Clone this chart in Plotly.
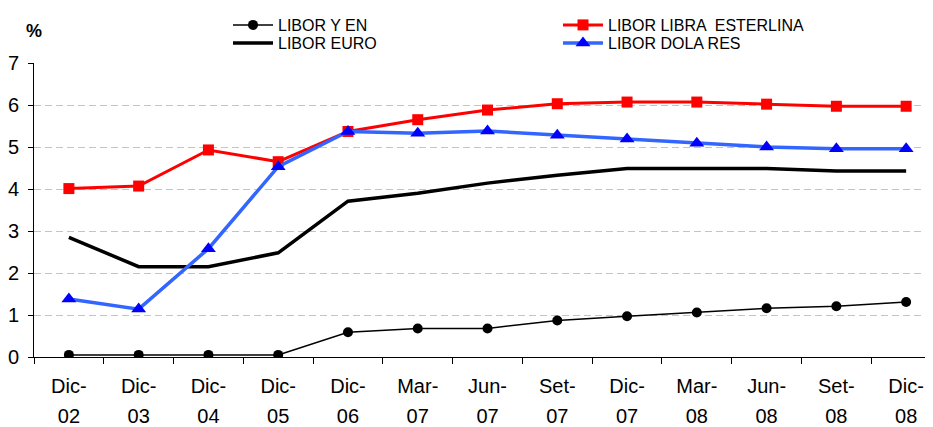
import plotly.graph_objects as go

month_labels = ["Dic-", "Dic-", "Dic-", "Dic-", "Dic-", "Mar-", "Jun-", "Set-", "Dic-", "Mar-", "Jun-", "Set-", "Dic-"]
year_labels = ["02", "03", "04", "05", "06", "07", "07", "07", "07", "08", "08", "08", "08"]
libor_yen = [0.05, 0.05, 0.05, 0.05, 0.59, 0.68, 0.68, 0.87, 0.97, 1.06, 1.16, 1.21, 1.31]
libor_euro = [2.85, 2.15, 2.15, 2.48, 3.71, 3.90, 4.14, 4.33, 4.49, 4.49, 4.49, 4.43, 4.43]
libor_libra = [4.01, 4.07, 4.93, 4.65, 5.37, 5.65, 5.88, 6.03, 6.07, 6.07, 6.02, 5.97, 5.97]
libor_dolares = [1.38, 1.14, 2.58, 4.53, 5.37, 5.33, 5.38, 5.28, 5.19, 5.09, 5.00, 4.96, 4.96]

FONT = "Liberation Sans, Arial, sans-serif"
# the page body has an 8px default margin, so the figure is sized/offset to compensate
W, H = 925, 419
L, R, T, B = 26, 0, 55, 70
PW = W - L - R
PH = H - T - B

fig = go.Figure()
xs = list(range(len(month_labels)))

fig.add_trace(go.Scatter(x=xs, y=libor_yen, name="LIBOR Y EN", mode="lines+markers",
                         line=dict(color="black", width=1.5),
                         marker=dict(symbol="circle", size=10, color="black"), legend="legend"))
fig.add_trace(go.Scatter(x=xs, y=libor_euro, name="LIBOR EURO", mode="lines",
                         line=dict(color="black", width=3.5), legend="legend2"))
fig.add_trace(go.Scatter(x=xs, y=libor_libra, name="LIBOR LIBRA  ESTERLINA", mode="lines+markers",
                         line=dict(color="#ff0000", width=3),
                         marker=dict(symbol="square", size=11, color="#ff0000"), legend="legend3"))
fig.add_trace(go.Scatter(x=xs, y=libor_dolares, name="LIBOR DOLA RES", mode="lines+markers",
                         line=dict(color="#3366ff", width=3.5),
                         marker=dict(symbol="triangle-up", size=13, color="#0000ff"), legend="legend4"))
# invisible trace carrying the second (year) label row
fig.add_trace(go.Scatter(x=xs, y=libor_yen, xaxis="x2", mode="markers", opacity=0,
                         showlegend=False, hoverinfo="skip"))


def leg(xpx, ypx):
    return dict(orientation="v", font=dict(family=FONT, size=16, color="black"),
                bgcolor="rgba(0,0,0,0)", itemwidth=40,
                xref="paper", yref="container", xanchor="left", yanchor="top",
                x=(xpx - L) / PW, y=1 - ypx / H)


fig.update_layout(
    width=W, height=H,
    margin=dict(l=L, r=R, t=T, b=B, autoexpand=False),
    paper_bgcolor="white", plot_bgcolor="white",
    font=dict(family=FONT, size=20, color="black"),
    showlegend=True,
    legend=leg(220, -2),
    legend2=leg(220, 18),
    legend3=leg(550, -2),
    legend4=leg(550, 18),
    xaxis=dict(range=[-0.5, 12.385], tickmode="array", tickvals=xs, ticktext=month_labels,
               showline=True, linecolor="black", linewidth=1, showgrid=False, zeroline=False,
               ticks="", ticklabelstandoff=11, tickfont=dict(family=FONT, size=20),
               minor=dict(tickmode="array", tickvals=[i - 0.5 for i in range(14)],
                          ticks="outside", ticklen=6, tickcolor="black", showgrid=False)),
    xaxis2=dict(range=[-0.5, 12.385], overlaying="x", anchor="y", side="bottom",
                tickmode="array", tickvals=xs, ticktext=year_labels,
                showline=False, showgrid=False, zeroline=False, ticks="",
                ticklabelstandoff=45, tickfont=dict(family=FONT, size=20)),
    yaxis=dict(range=[0, 7], dtick=1, showline=True, linecolor="black", linewidth=1,
               ticks="outside", ticklen=5, tickcolor="black", ticklabelstandoff=5,
               showgrid=True, gridcolor="#c4c4c4", griddash="7px,4px", gridwidth=1,
               zeroline=False, tickfont=dict(family=FONT, size=20)),
    annotations=[dict(text="<b>%</b>", xref="paper", yref="paper", x=0,
                      y=1 + (T - 23) / PH, xanchor="center", yanchor="middle", showarrow=False,
                      font=dict(family=FONT, size=18, color="black"))],
)

fig.write_html("out.html")
